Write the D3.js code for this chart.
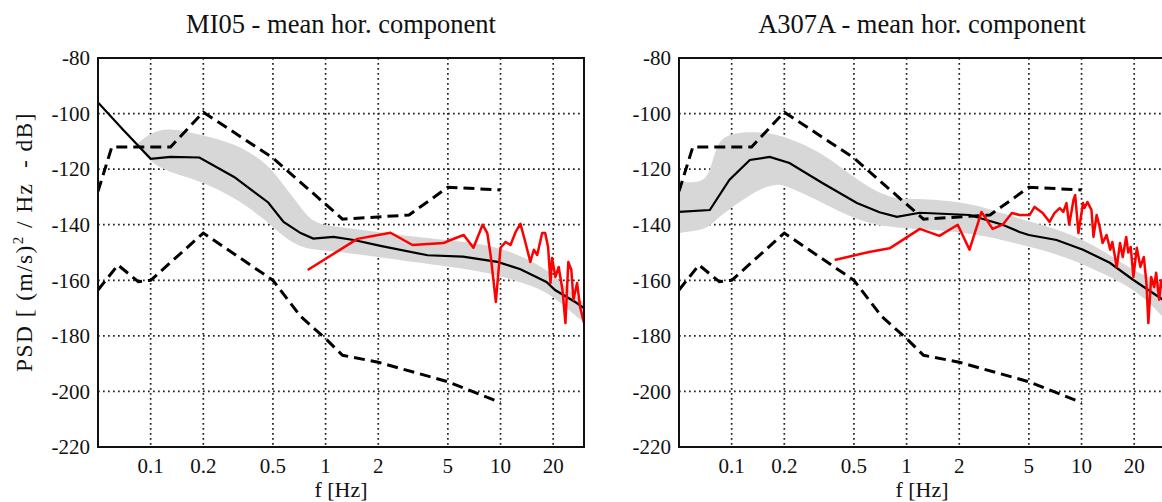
<!DOCTYPE html>
<html>
<head>
<meta charset="utf-8">
<script src="https://cdn.jsdelivr.net/npm/d3@7"></script>
<style>
  html, body { margin: 0; padding: 0; background: #fff; }
  text { font-family: "Liberation Serif", "Times New Roman", serif; fill: #111; }
</style>
</head>
<body>
<div id="chart"></div>
<script>
// axis ticks
var freqTicks = [0.1, 0.2, 0.5, 1, 2, 5, 10, 20];
var freqTickLabels = ["0.1", "0.2", "0.5", "1", "2", "5", "10", "20"];
var psdTicks = [-80, -100, -120, -140, -160, -180, -200, -220];

// Peterson noise models (same on both panels) [f, dB]
var nhnm = [[0.05,-128],[0.06,-112],[0.13,-112],[0.2,-99.5],[0.5,-116],[1.25,-138],[3,-136.5],[5,-126.5],[10,-127.5]];
var nlnm = [[0.05,-163.5],[0.065,-154.5],[0.085,-160.5],[0.1,-160],[0.2,-143],[0.5,-160],[0.72,-173],[1,-181],[1.25,-187],[2,-189.5],[5,-196.5],[10,-204]];

// MI05
var mi05Mean = [[0.05,-96],[0.07,-106],[0.1,-116.3],[0.13,-115.6],[0.19,-115.8],[0.3,-122.8],[0.47,-132],[0.575,-139],[0.72,-143],[0.85,-145],[1.11,-144.4],[1.45,-145.5],[2.06,-147.6],[3.83,-151],[6.1,-151.5],[9.6,-153.4],[13,-156],[18.3,-160.6],[20.5,-163.5],[27,-168],[30,-170]];
var mi05BandFreq  = [0.085, 0.1, 0.125, 0.19, 0.3, 0.47, 0.575, 0.72, 0.85, 1.33, 3.2, 7.7, 11.9, 18.3, 27, 30];
var mi05BandUpper = [-110.5, -107, -105, -107.5, -110.5, -118, -126, -133.5, -140, -141, -144.5, -146.5, -150, -155.5, -166, -168];
var mi05BandLower = [-112, -117.5, -121, -124, -130, -139, -144.5, -148, -149, -150, -153.5, -156.5, -160, -163.5, -173, -175];
var mi05Red = [[0.79,-156.3],[1.52,-145.1],[2.35,-142.9],[3.14,-147.3],[4.72,-146.6],[5.18,-145.5],[6.16,-143.7],[7.0,-148.3],[7.9,-140],[8.4,-143],[8.8,-151.5],[9.4,-167.8],[10,-148.3],[10.7,-146.2],[11.4,-147.3],[12.2,-142.6],[13,-139.7],[13.9,-146.6],[14.8,-153.4],[15.5,-149],[16.2,-150.9],[17.3,-143],[18,-143],[18.7,-148],[19.3,-161],[19.7,-152],[20.6,-158.8],[21.5,-155.2],[22.6,-163.5],[23.5,-175.4],[24.4,-153.4],[25.4,-156.3],[26.1,-167],[27.4,-161],[28.5,-169.6],[30,-175.4]];

// A307A
var a307Mean = [[0.05,-135.4],[0.075,-134.7],[0.097,-123.9],[0.127,-116.7],[0.165,-115.6],[0.214,-117.8],[0.33,-125],[0.52,-132.2],[0.7,-135.5],[0.88,-137.2],[1.19,-135.7],[2.29,-136.5],[3.54,-140],[4.42,-142.6],[5.0,-143.7],[7.2,-145.5],[10.2,-149],[14.5,-153.7],[19.7,-159.8],[29.2,-167],[30,-167.5]];
var a307BandFreq  = [0.05, 0.066, 0.075, 0.082, 0.097, 0.139, 0.181, 0.214, 0.33, 0.52, 0.8, 1.19, 2.29, 3.54, 5.5, 8.5, 13.2, 20.7, 30];
var a307BandUpper = [-124.5, -125, -122, -110.5, -107, -106.5, -107.5, -109, -114, -124, -131, -130.5, -132, -136, -139.5, -143, -149, -157.5, -161];
var a307BandLower = [-143, -142, -140.5, -138, -134.5, -127.5, -125, -126.5, -132, -138.5, -141, -141.5, -143, -145.5, -148.5, -152, -157.5, -163.5, -174];
var a307Red = [[0.388,-152.7],[0.61,-149.8],[0.8,-148.5],[1.19,-141.5],[1.54,-144],[1.96,-140],[2.29,-149],[2.68,-135.4],[3.1,-141.5],[3.54,-140],[4.0,-135.8],[4.42,-136.5],[5.05,-136.5],[5.39,-133.6],[6.0,-135.8],[6.57,-139],[7.0,-135.8],[7.5,-134],[7.87,-135.4],[8.2,-132.2],[8.5,-140],[9.0,-131],[9.2,-129.3],[9.6,-143],[10.2,-132.2],[10.4,-134],[10.8,-131.8],[11.4,-134.7],[11.7,-144.4],[12.2,-136.5],[12.7,-140.8],[13.2,-146.6],[13.9,-143.7],[14.6,-149],[15.0,-146.2],[15.9,-155.2],[16.6,-146.6],[17.2,-151.6],[18.0,-144.4],[18.5,-150],[19.1,-148],[19.8,-158.8],[20.7,-148.3],[21.7,-155.2],[22.7,-151.6],[23.5,-161],[24.1,-175.4],[25,-158.8],[26,-162.4],[26.7,-157.3],[27.8,-167],[28.5,-160],[30,-166]];

var W = 1162, H = 502;
var plotW = 486, plotH = 389, plotTop = 58;

var svg = d3.select('#chart').append('svg')
  .attr('width', W).attr('height', H)
  .attr('xmlns', 'http://www.w3.org/2000/svg');

function drawPanel(left, id, title, mean, bandF, bandU, bandL, red) {
  var x = d3.scaleLog().domain([0.05, 30]).range([0, plotW]);
  var y = d3.scaleLinear().domain([-220, -80]).range([plotH, 0]);

  var g = svg.append('g').attr('transform', 'translate(' + left + ',' + plotTop + ')');

  svg.append('clipPath').attr('id', 'clip-' + id)
    .append('rect').attr('width', plotW).attr('height', plotH);

  // grid
  var grid = g.append('g')
    .attr('stroke', '#222').attr('stroke-width', 1.7)
    .attr('stroke-dasharray', '1.7,3.3');
  grid.selectAll('.gx').data(freqTicks).enter().append('line')
    .attr('x1', function(d) { return x(d); }).attr('x2', function(d) { return x(d); })
    .attr('y1', 0).attr('y2', plotH);
  grid.selectAll('.gy').data(psdTicks.slice(1, -1)).enter().append('line')
    .attr('y1', function(d) { return y(d); }).attr('y2', function(d) { return y(d); })
    .attr('x1', 0).attr('x2', plotW);

  var data = g.append('g').attr('clip-path', 'url(#clip-' + id + ')');

  var band = d3.area()
    .x(function(d, i) { return x(bandF[i]); })
    .y0(function(d, i) { return y(bandL[i]); })
    .y1(function(d, i) { return y(bandU[i]); })
    .curve(d3.curveBasis);
  data.append('path').datum(bandF).attr('d', band)
    .attr('fill', '#d7d7d7').attr('stroke', 'none');

  var line = d3.line()
    .x(function(d) { return x(d[0]); })
    .y(function(d) { return y(d[1]); });

  [nhnm, nlnm].forEach(function(m) {
    data.append('path').datum(m).attr('d', line)
      .attr('fill', 'none').attr('stroke', '#000').attr('stroke-width', 3)
      .attr('stroke-dasharray', '11,6');
  });

  data.append('path').datum(mean).attr('d', line)
    .attr('fill', 'none').attr('stroke', '#000').attr('stroke-width', 2.2);

  data.append('path').datum(red).attr('d', line)
    .attr('fill', 'none').attr('stroke', '#f00').attr('stroke-width', 2.5)
    .attr('stroke-linejoin', 'round');

  // frame
  g.append('rect').attr('width', plotW).attr('height', plotH)
    .attr('fill', 'none').attr('stroke', '#111').attr('stroke-width', 2);

  // tick labels
  g.selectAll('.ty').data(psdTicks).enter().append('text')
    .attr('x', -8).attr('y', function(d) { return y(d); })
    .attr('dy', '0.35em').attr('text-anchor', 'end')
    .style('font-size', '21px')
    .text(function(d) { return d; });
  g.selectAll('.tx').data(freqTicks).enter().append('text')
    .attr('x', function(d) { return x(d); }).attr('y', plotH + 26)
    .attr('text-anchor', 'middle')
    .style('font-size', '21px')
    .text(function(d, i) { return freqTickLabels[i]; });

  g.append('text').attr('x', plotW / 2).attr('y', plotH + 50)
    .attr('text-anchor', 'middle').style('font-size', '22px')
    .text('f [Hz]');

  g.append('text').attr('x', plotW / 2).attr('y', -25)
    .attr('text-anchor', 'middle').style('font-size', '26.5px')
    .text(title);
}

drawPanel(98, 'mi05', 'MI05 - mean hor. component', mi05Mean, mi05BandFreq, mi05BandUpper, mi05BandLower, mi05Red);
drawPanel(679, 'a307', 'A307A - mean hor. component', a307Mean, a307BandFreq, a307BandUpper, a307BandLower, a307Red);

// y label
var ylab = svg.append('text')
  .attr('transform', 'translate(32,242) rotate(-90)')
  .attr('text-anchor', 'middle')
  .style('font-size', '23.5px')
  .style('letter-spacing', '1.4px')
  .style('white-space', 'pre');
ylab.append('tspan').text('PSD [ (m/s)');
ylab.append('tspan').attr('dy', -9).style('font-size', '15px').text('2');
ylab.append('tspan').attr('dy', 9).text(' / Hz  - dB]');
</script>
</body>
</html>
